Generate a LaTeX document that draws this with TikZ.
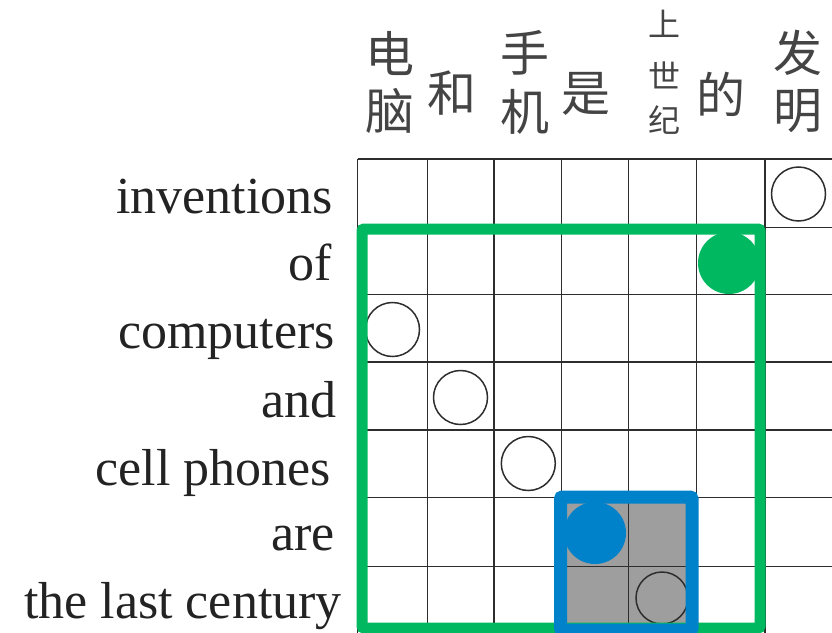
\documentclass[tikz,border=0pt]{standalone}
\usepackage{fontspec}
\setmainfont{Liberation Serif}
\newfontfamily\cjk{Noto Sans CJK SC}
\definecolor{mygreen}{RGB}{0,184,95}
\definecolor{myblue}{RGB}{0,130,202}
\definecolor{gridc}{RGB}{45,45,45}
\definecolor{cellgray}{RGB}{158,158,158}
\definecolor{txt}{RGB}{35,35,35}
\begin{document}
\begin{tikzpicture}[x=1pt,y=-1pt,
  gridline/.style={draw=gridc, line width=1.4pt},
  opencirc/.style={draw=gridc, line width=1.5pt},
  en/.style={anchor=base east, inner sep=0pt, text=txt, font=\fontsize{52}{52}\selectfont},
  zh/.style={anchor=center, inner sep=0pt, text=txt!85, font=\cjk\fontsize{49}{49}\selectfont},
  zhs/.style={anchor=center, inner sep=0pt, text=txt!85, font=\cjk\fontsize{32}{32}\selectfont},
  greenbox/.style={draw=mygreen, line width=11pt, rounded corners=2pt},
  bluebox/.style={draw=myblue, line width=13pt, rounded corners=2pt}]
\useasboundingbox (0,0) rectangle (832,632);
\clip (0,0) rectangle (832,632);
% shaded cells
\fill[cellgray] (561.7,497.7) rectangle (696.7,640);
% grid
\foreach \x in {357.7,427.3,494,561.7,628.7,696.7,765,833.5}
  \draw[gridline] (\x,159) -- (\x,640);
\foreach \y in {159,227.3,294.3,362,430,497.7,566.7,634}
  \draw[gridline] (357.7,\y) -- (840,\y);
% open circles
\draw[opencirc] (798.5,194) circle (27pt);
\draw[opencirc] (392.5,329.5) circle (27pt);
\draw[opencirc] (460.5,397.5) circle (27pt);
\draw[opencirc] (528.3,463.5) circle (27pt);
\draw[opencirc] (662,598) circle (26pt);
% green frame and dot
\draw[greenbox] (362,229) rectangle (760,628);
\fill[mygreen] (729,263) circle (31pt);
% blue frame and dot
\draw[bluebox] (560.5,497) rectangle (692,630);
\fill[myblue] (595,533) circle (31pt);
% English labels
\node[en] (l1) at (333,213) {inventions};
\node[en] (l2) at (332,280) {of};
\node[en] (l3) at (335,348) {computers};
\node[en] (l4) at (337,417) {and};
\node[en] (l5) at (331,485) {cell phones};
\node[en] (l6) at (335,550) {are};
\node[en] (l7) at (342,618) {the last century};
% Chinese labels
\node[zh] (c1a) at (390,53.5) {电};
\node[zh] (c1b) at (390,111) {脑};
\node[zh] (c2) at (451.5,93.5) {和};
\node[zh] (c3a) at (525,53) {手};
\node[zh] (c3b) at (525,111.5) {机};
\node[zh] (c4) at (586,93.5) {是};
\node[zhs] (c5a) at (664,23.5) {上};
\node[zhs] (c5b) at (664,75) {世};
\node[zhs] (c5c) at (664,120) {纪};
\node[zh] (c6) at (721,94.5) {的};
\node[zh] (c7a) at (798,53) {发};
\node[zh] (c7b) at (798,111.5) {明};
\end{tikzpicture}
\end{document}
